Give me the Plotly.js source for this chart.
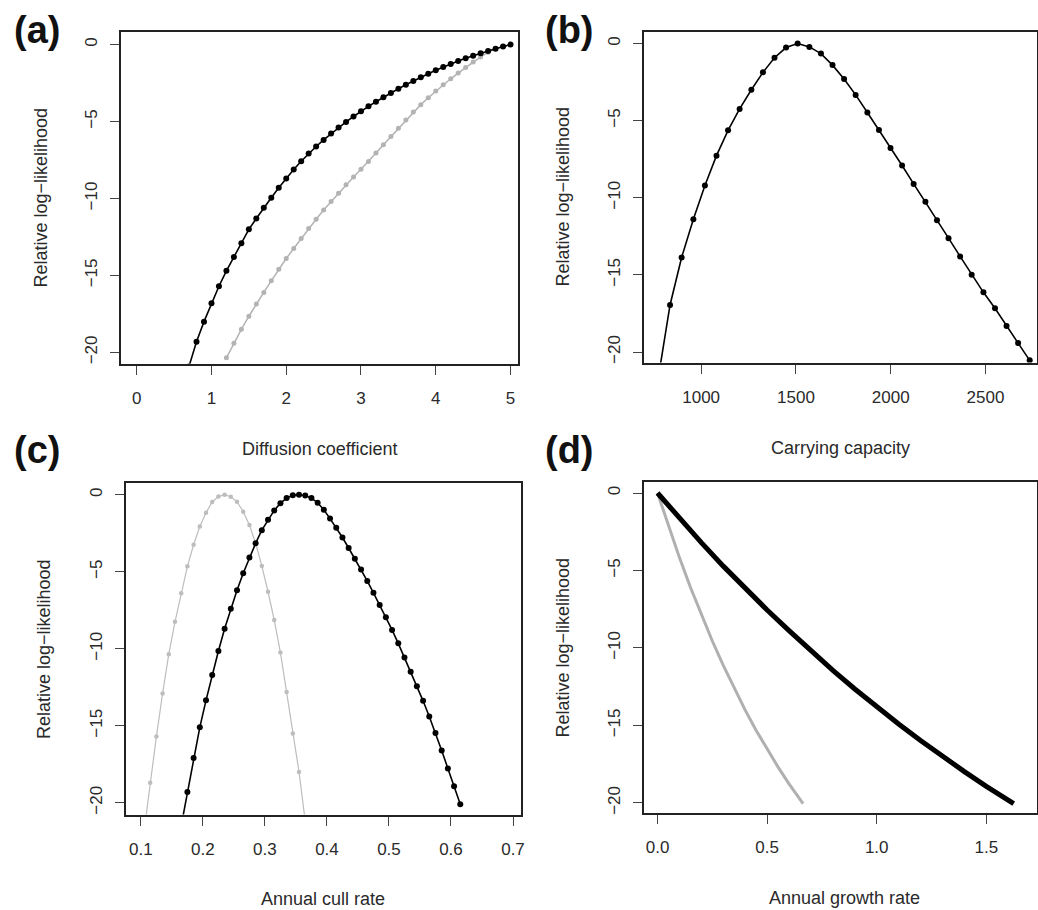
<!DOCTYPE html>
<html>
<head>
<meta charset="utf-8">
<script src="https://cdn.plot.ly/plotly-3.0.1.min.js"></script>
<style>html,body{margin:0;padding:0;background:#fff;}#chart{width:1038px;height:910px;}</style>
</head>
<body>
<div id="chart"></div>
<script>
// ---------- Data ----------
// (a) Diffusion coefficient
var aBlackX = [0.7,0.8,0.9,1.0,1.1,1.2,1.3,1.4,1.5,1.6,1.7,1.8,1.9,2.0,2.1,2.2,2.3,2.4,2.5,2.6,2.7,2.8,2.9,3.0,3.1,3.2,3.3,3.4,3.5,3.6,3.7,3.8,3.9,4.0,4.1,4.2,4.3,4.4,4.5,4.6,4.7,4.8,4.9,5.0];
var aBlackY = [-20.9,-19.3,-18.0,-16.8,-15.7,-14.7,-13.8,-12.9,-12.0,-11.3,-10.6,-9.95,-9.3,-8.7,-8.12,-7.58,-7.08,-6.62,-6.19,-5.78,-5.39,-5.02,-4.67,-4.33,-4.01,-3.71,-3.42,-3.14,-2.87,-2.61,-2.36,-2.12,-1.89,-1.67,-1.46,-1.26,-1.07,-0.89,-0.72,-0.56,-0.41,-0.27,-0.13,0];
var aGreyX = [1.2,1.3,1.4,1.5,1.6,1.7,1.8,1.9,2.0,2.1,2.2,2.3,2.4,2.5,2.6,2.7,2.8,2.9,3.0,3.1,3.2,3.3,3.4,3.5,3.6,3.7,3.8,3.9,4.0,4.1,4.2,4.3,4.4,4.5,4.6,4.7,4.8,4.9,5.0];
var aGreyY = [-20.35,-19.4,-18.5,-17.65,-16.85,-16.1,-15.35,-14.6,-13.9,-13.25,-12.6,-11.95,-11.35,-10.75,-10.2,-9.65,-9.1,-8.6,-8.1,-7.6,-7.05,-6.5,-5.97,-5.43,-4.9,-4.38,-3.9,-3.45,-3.02,-2.6,-2.22,-1.85,-1.48,-1.13,-0.8,-0.5,-0.27,-0.1,0];

// (b) Carrying capacity
var bX = [775,836,897,959,1020,1081,1142,1203,1265,1326,1387,1448,1509,1571,1632,1693,1754,1815,1877,1938,1999,2060,2121,2183,2244,2305,2366,2427,2489,2550,2611,2672,2733];
var bY = [-21.6,-16.95,-13.87,-11.4,-9.2,-7.27,-5.63,-4.24,-3.0,-1.87,-0.92,-0.26,0,-0.22,-0.65,-1.4,-2.3,-3.33,-4.47,-5.6,-6.77,-7.91,-9.1,-10.26,-11.46,-12.62,-13.8,-14.99,-16.13,-17.16,-18.32,-19.42,-20.54];

// (c) Annual cull rate
var cBlackX = [0.165,0.175,0.185,0.195,0.205,0.215,0.225,0.235,0.245,0.255,0.265,0.275,0.285,0.295,0.305,0.315,0.325,0.335,0.345,0.355,0.365,0.375,0.385,0.395,0.405,0.415,0.425,0.435,0.445,0.455,0.465,0.475,0.485,0.495,0.505,0.515,0.525,0.535,0.545,0.555,0.565,0.575,0.585,0.595,0.605,0.615];
var cBlackY = [-21.5,-19.3,-17.1,-15.1,-13.35,-11.7,-10.15,-8.7,-7.4,-6.2,-5.1,-4.08,-3.15,-2.3,-1.62,-1.02,-0.55,-0.22,-0.04,0,-0.05,-0.22,-0.52,-0.98,-1.55,-2.15,-2.78,-3.46,-4.15,-4.86,-5.6,-6.37,-7.16,-7.96,-8.78,-9.65,-10.57,-11.5,-12.43,-13.38,-14.4,-15.47,-16.6,-17.77,-18.92,-20.1];
var cGreyX = [0.105,0.115,0.125,0.135,0.145,0.155,0.165,0.175,0.185,0.195,0.205,0.215,0.225,0.235,0.245,0.255,0.265,0.275,0.285,0.295,0.305,0.315,0.325,0.335,0.345,0.355,0.365];
var cGreyY = [-21.9,-18.7,-15.7,-12.9,-10.35,-8.25,-6.4,-4.65,-3.25,-2.07,-1.17,-0.47,-0.12,0,-0.13,-0.46,-1.1,-1.97,-3.15,-4.62,-6.3,-8.13,-10.25,-12.8,-15.5,-18.0,-21.2];

// (d) Annual growth rate
var dBlackX = [0,0.1,0.2,0.3,0.4,0.5,0.6,0.7,0.8,0.9,1.0,1.1,1.2,1.3,1.4,1.5,1.6,1.625];
var dBlackY = [0,-1.62,-3.2,-4.72,-6.17,-7.55,-8.88,-10.2,-11.45,-12.65,-13.8,-14.9,-15.97,-17.0,-17.98,-18.93,-19.84,-20.05];
var dGreyX = [0,0.05,0.1,0.15,0.2,0.25,0.3,0.35,0.4,0.45,0.5,0.55,0.6,0.65,0.664];
var dGreyY = [0,-2.16,-4.17,-6.08,-7.86,-9.55,-11.13,-12.62,-14.01,-15.32,-16.54,-17.69,-18.77,-19.77,-20.05];

// Tick labels
var yTicks = [0,-5,-10,-15,-20];
var aTicks = [0,1,2,3,4,5];
var bTicks = [1000,1500,2000,2500];
var cTicks = [0.1,0.2,0.3,0.4,0.5,0.6,0.7];
var cTickText = ['0.1','0.2','0.3','0.4','0.5','0.6','0.7'];
var dTicks = [0,0.5,1.0,1.5];
var dTickText = ['0.0','0.5','1.0','1.5'];

var panelLabels = ['(a)','(b)','(c)','(d)'];
var xTitles = ['Diffusion coefficient','Carrying capacity','Annual cull rate','Annual growth rate'];
var yTitle = 'Relative log\u2212likelihood';

// ---------- Layout helpers ----------
var W = 1038, H = 910;
var FONT = 'Liberation Sans, Arial, Helvetica, sans-serif';
var TXT = '#2a2a2a';
function px(x){ return x / W; }
function py(y){ return 1 - y / H; }

// plot boxes in pixels: [left, top, right, bottom]
var boxes = [
  [121, 32, 518, 363.5],
  [643.5, 31.5, 1036.5, 362.5],
  [125.5, 483, 521, 814.5],
  [643.5, 482, 1036.5, 813]
];

function xAxis(i, range, vals, text){
  var b = boxes[i];
  var ax = {
    domain: [px(b[0]), px(b[2])], range: range, anchor: 'y' + (i ? i+1 : ''),
    showgrid: false, zeroline: false, showline: true, mirror: true,
    linecolor: '#222', linewidth: 2,
    ticks: 'outside', ticklen: 9, tickwidth: 1, tickcolor: '#444',
    tickvals: vals, tickfont: {family: FONT, size: 17, color: TXT},
    ticklabelstandoff: 9, fixedrange: true
  };
  if (text) ax.ticktext = text;
  return ax;
}
function yAxis(i, range){
  var b = boxes[i];
  return {
    domain: [py(b[3]), py(b[1])], range: range, anchor: 'x' + (i ? i+1 : ''),
    showgrid: false, zeroline: false, showline: true, mirror: true,
    linecolor: '#222', linewidth: 2,
    ticks: 'outside', ticklen: 9, tickwidth: 1, tickcolor: '#444',
    tickvals: yTicks, tickangle: -90,
    tickfont: {family: FONT, size: 17, color: TXT},
    ticklabelstandoff: 6, fixedrange: true
  };
}

var GREY = '#b3b3b3';
function series(x, y, ax, color, lw, ms, mode){
  var t = {x: x, y: y, xaxis: 'x' + ax, yaxis: 'y' + ax, type: 'scatter',
    mode: mode, line: {color: color, width: lw, shape: 'linear'},
    hoverinfo: 'skip', showlegend: false};
  if (mode.indexOf('markers') >= 0) t.marker = {color: color, size: ms};
  return t;
}

var data = [
  series(aGreyX, aGreyY, '', GREY, 1.5, 5, 'lines+markers'),
  series(aBlackX, aBlackY, '', '#000', 1.6, 6, 'lines+markers'),
  series(bX, bY, '2', '#000', 1.6, 6, 'lines+markers'),
  series(cGreyX, cGreyY, '3', '#bdbdbd', 1.2, 4.5, 'lines+markers'),
  series(cBlackX, cBlackY, '3', '#000', 1.6, 6, 'lines+markers'),
  series(dGreyX, dGreyY, '4', '#b0b0b0', 3, 0, 'lines'),
  series(dBlackX, dBlackY, '4', '#000', 5, 0, 'lines')
];

var annotations = [];
var labelPos = [[37, 30], [569, 30], [37, 450], [569, 450]];
var xTitlePos = [[319.5, 449], [840, 448], [323, 899], [844, 898]];
var yTitlePos = [[40, 197.5], [562.5, 197], [44, 649], [562.5, 648]];
for (var i = 0; i < 4; i++){
  annotations.push({xref:'paper', yref:'paper', x: px(labelPos[i][0]), y: py(labelPos[i][1]),
    xanchor:'center', yanchor:'middle', showarrow:false, text:'<b>' + panelLabels[i] + '</b>',
    font:{family: FONT, size: 38, color: '#111'}});
  annotations.push({xref:'paper', yref:'paper', x: px(xTitlePos[i][0]), y: py(xTitlePos[i][1]),
    xanchor:'center', yanchor:'middle', showarrow:false, text: xTitles[i],
    font:{family: FONT, size: 18, color: TXT}});
  annotations.push({xref:'paper', yref:'paper', x: px(yTitlePos[i][0]), y: py(yTitlePos[i][1]),
    xanchor:'center', yanchor:'middle', showarrow:false, text: yTitle, textangle: -90,
    font:{family: FONT, size: 18, color: TXT}});
}

var layout = {
  width: W, height: H, margin: {l:0, r:0, t:0, b:0},
  paper_bgcolor: '#fff', plot_bgcolor: '#fff', showlegend: false,
  xaxis: xAxis(0, [-0.21, 5.10], aTicks),
  yaxis: yAxis(0, [-20.72, 0.82]),
  xaxis2: xAxis(1, [696, 2769], bTicks),
  yaxis2: yAxis(1, [-20.68, 0.78]),
  xaxis3: xAxis(2, [0.0752, 0.7129], cTicks, cTickText),
  yaxis3: yAxis(2, [-20.76, 0.76]),
  xaxis4: xAxis(3, [-0.064, 1.729], dTicks, dTickText),
  yaxis4: yAxis(3, [-20.65, 0.71]),
  annotations: annotations
};

Plotly.newPlot('chart', data, layout, {staticPlot: true, displayModeBar: false});
</script>
</body>
</html>
